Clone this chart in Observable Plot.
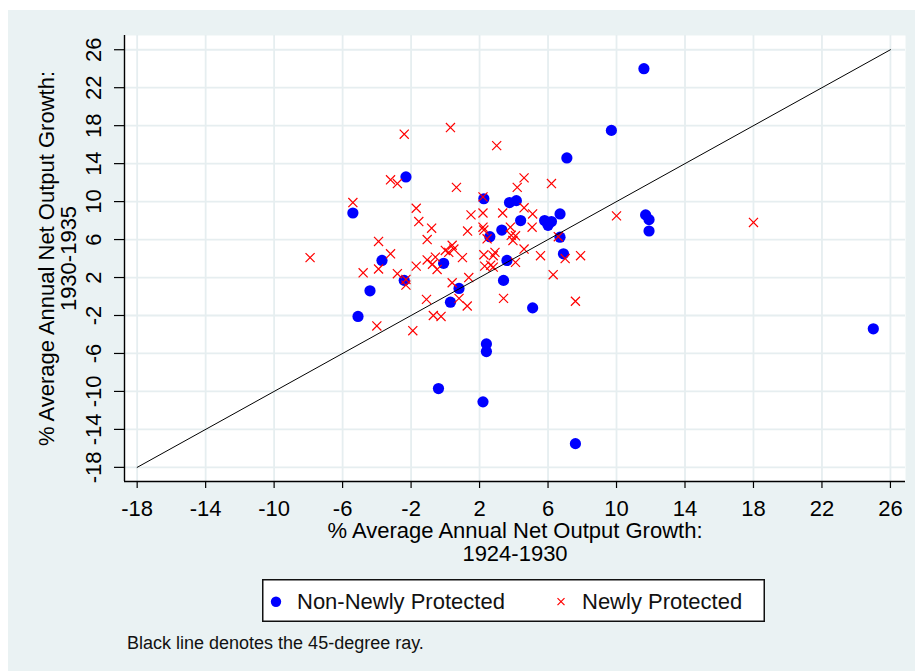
<!DOCTYPE html>
<html>
<head>
<meta charset="utf-8">
<script src="https://cdn.jsdelivr.net/npm/d3@7"></script>
<script src="https://cdn.jsdelivr.net/npm/@observablehq/plot@0.6"></script>
<style>
html,body{margin:0;padding:0;background:#fff;}
#chart{position:absolute;left:8px;top:10px;width:907px;height:661px;background:#EAF2F3;font-family:"Liberation Sans",Arial,sans-serif;overflow:hidden;}
#plot{position:absolute;left:0;top:0;}
#legend{position:absolute;left:254px;top:569px;}
#caption{position:absolute;left:119px;top:624px;font-size:18px;line-height:18px;color:#111;white-space:nowrap;}
</style>
</head>
<body>
<div id="chart">
  <div id="plot"></div>
  <div id="legend"></div>
  <div id="caption"></div>
</div>
<script>
// ---- data ----
const xTicks = [-18, -14, -10, -6, -2, 2, 6, 10, 14, 18, 22, 26];
const yTicks = [-18, -14, -10, -6, -2, 2, 6, 10, 14, 18, 22, 26];
const xDomain = [-18.74, 26.88];
const yDomain = [-19.49, 27.5];
const rayEnds = [-18, 26];

const seriesNames = ["Non-Newly Protected", "Newly Protected"];
const xTitle = "% Average Annual Net Output Growth:\n1924-1930";
const yTitle = "% Average Annual Net Output Growth:\n1930-1935";
const captionText = "Black line denotes the 45-degree ray.";

// Non-Newly Protected (blue dots)
const blueX = [-2.3, -5.4, -3.7, -2.4, -4.4, -5.1, -0.1, 0.3, 0.8, -0.4,
               2.25, 3.75, 4.15, 4.4, 5.8, 6.0, 6.2, 6.7, 3.3, 2.6,
               6.7, 6.9, 3.6, 3.4, 5.1, 2.4, 2.4, 2.2, 7.6, 7.1,
               9.7, 11.6, 11.7, 11.9, 11.9, 25.0];
const blueY = [12.6, 8.8, 3.8, 1.7, 0.6, -2.1, 3.5, -0.6, 0.85, -9.7,
               10.3, 9.9, 10.1, 8.0, 8.0, 7.5, 7.9, 8.7, 7.0, 6.3,
               6.25, 4.5, 3.8, 1.7, -1.2, -5.0, -5.8, -11.1, -15.5, 14.6,
               17.5, 24.0, 8.6, 8.1, 6.9, -3.4];

// Newly Protected (red crosses)
const redX = [-2.4, 0.3, -3.2, -2.8, 0.65, -5.4, -1.7, -1.55, -0.8, -1.06,
              1.5, 1.3, -3.9, -3.2, -7.9, -4.8, -3.9, -2.8, -2.3, -2.3,
              -4.0, -1.9, -1.7, -1.06, -0.75, -0.58, -0.48, 0.4, 0.5, 0.2,
              0.0, 1.0, -1.1, -0.7, -0.25, 0.8, 1.28, 0.4, 1.37, 3.0,
              4.6, 4.2, 6.2, 2.2, 4.6, 5.1, 2.2, 3.35, 5.07, 3.8,
              2.2, 2.25, 2.44, 3.85, 4.1, 3.95, 4.6, 6.6, 7.0, 5.56,
              7.9, 2.9, 2.8, 2.25, 4.1, 2.3, 2.65, 2.8, 6.3, 3.4,
              7.6, 10.0, 18.0];
const redY = [17.1, 17.8, 12.3, 11.9, 11.5, 9.9, 9.3, 7.9, 7.2, 6.0,
              8.6, 6.9, 5.8, 4.5, 4.1, 2.5, 2.9, 2.4, 1.8, 1.2,
              -3.1, -3.6, 3.2, 3.85, 3.4, 4.15, 2.85, 5.4, 5.0, 4.65,
              4.85, 4.1, -0.3, -2.0, -2.1, -0.2, -1.0, 1.45, 2.0, 15.9,
              12.5, 11.5, 11.9, 10.5, 9.35, 8.7, 8.8, 8.8, 7.3, 7.3,
              7.3, 7.0, 6.08, 6.45, 6.4, 5.9, 5.0, 6.3, 4.0, 4.3,
              4.3, 4.65, 4.3, 4.4, 3.6, 3.2, 3.3, 3.1, 2.3, -0.2,
              -0.5, 8.5, 7.8];

// ---- styles ----
const blue = "#0000FF";
const red = "#FF0000";
const gridColor = "#E6EEF0";
const hyphenFormat = d => String(d);

const chart = Plot.plot({
  width: 907,
  height: 565,
  marginLeft: 116,
  marginRight: 10,
  marginTop: 25,
  marginBottom: 94,
  style: {background: "transparent", fontFamily: "'Liberation Sans', Arial, sans-serif", fontSize: "22px", color: "#000", overflow: "visible"},
  x: {domain: xDomain},
  y: {domain: yDomain},
  marks: [
    Plot.frame({fill: "white", stroke: "none"}),
    Plot.gridX(xTicks, {stroke: gridColor, strokeOpacity: 1, strokeWidth: 1.8}),
    Plot.gridY(yTicks, {stroke: gridColor, strokeOpacity: 1, strokeWidth: 1.8}),
    Plot.dot(blueX, {x: blueX, y: blueY, r: 5.6, fill: blue, stroke: "none"}),
    Plot.dot(redX, {x: redX, y: redY, symbol: "times", r: 4.2, stroke: red, strokeWidth: 1.2}),
    Plot.line(rayEnds, {x: d => d, y: d => d, stroke: "#000", strokeWidth: 1}),
    Plot.ruleX([xDomain[0]], {stroke: "#000", strokeWidth: 1.4}),
    Plot.ruleY([yDomain[0]], {stroke: "#000", strokeWidth: 1.4}),
    Plot.axisX(xTicks, {tickSize: 7, tickPadding: 12, tickFormat: hyphenFormat, label: null, fontSize: 22, stroke: "#000", strokeWidth: 1.2}),
    Plot.axisY(yTicks, {tickSize: 10, tickRotate: -90, tickPadding: 14, tickFormat: hyphenFormat, label: null, fontSize: 22, stroke: "#000", strokeWidth: 1.2}),
    Plot.text([xTitle], {frameAnchor: "bottom", textAnchor: "middle", lineAnchor: "top", dy: 41, fontSize: 22, lineHeight: 1.02, fill: "#000"}),
    Plot.text([yTitle], {frameAnchor: "left", textAnchor: "middle", rotate: -90, lineAnchor: "top", dx: -86, fontSize: 22, lineHeight: 1.0, fill: "#000"})
  ]
});
document.getElementById("plot").appendChild(chart);

// ---- legend ----
const lw = 503, lh = 43;
const ns = "http://www.w3.org/2000/svg";
const lsvg = d3.create("svg").attr("xmlns", ns).attr("width", lw).attr("height", lh)
  .style("font-family", "'Liberation Sans', Arial, sans-serif").style("font-size", "22px");
lsvg.append("rect").attr("x", 0.75).attr("y", 0.75).attr("width", lw - 1.5).attr("height", lh - 1.5)
  .attr("fill", "#fff").attr("stroke", "#111").attr("stroke-width", 1.5);
const g1 = lsvg.append("g");
g1.append("circle").attr("cx", 14).attr("cy", 22.7).attr("r", 5.2).attr("fill", blue);
g1.append("text").attr("x", 35).attr("y", 30).attr("fill", "#111").text(seriesNames[0]);
const g2 = lsvg.append("g");
g2.append("path").attr("d", "M295.5,19.2L302.5,26.2M302.5,19.2L295.5,26.2").attr("stroke", red).attr("stroke-width", 1.2).attr("fill", "none");
g2.append("text").attr("x", 320).attr("y", 30).attr("fill", "#111").text(seriesNames[1]);
document.getElementById("legend").appendChild(lsvg.node());

document.getElementById("caption").textContent = captionText;
</script>
</body>
</html>
